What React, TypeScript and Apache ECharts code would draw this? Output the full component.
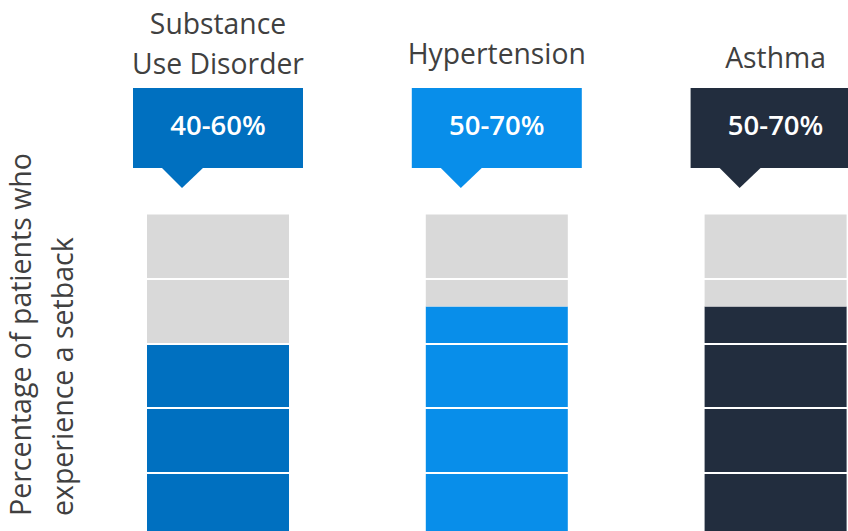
import React, { useEffect, useRef } from "react";
import * as echarts from "echarts";

const categories = ["Substance\nUse Disorder", "Hypertension", "Asthma"];
const rangeLabels = ["40-60%", "50-70%", "50-70%"];
const setbackValues = [60, 71.5, 71.5];
const segmentBreaks = [20, 40, 60, 80];
const axisMax = 100;
const barColors = ["#0070C0", "#088EEA", "#222D3E"];
const grayColor = "#D9D9D9";
const titleCenterY = [43, 53, 57];

export default function App() {
  const ref = useRef<HTMLDivElement>(null);
  useEffect(() => {
    if (!ref.current) return;
    const chart = echarts.init(ref.current, null, { renderer: "svg" });
    const font = "'Open Sans', 'Noto Sans', sans-serif";
    const option: any = {
      animation: false,
      backgroundColor: "#ffffff",
      grid: { left: 78.6, top: 214.5, right: 0, bottom: 0 },
      xAxis: {
        type: "category",
        data: categories,
        show: false,
      },
      yAxis: {
        type: "value",
        min: 0,
        max: axisMax,
        show: false,
        splitLine: { show: false },
      },
      graphic: [
        {
          type: "text",
          x: -1,
          y: 516,
          rotation: Math.PI / 2,
          style: {
            text: "Percentage of patients who\nexperience a setback",
            font: `28.5px ${font}`,
            fill: "#404040",
            lineHeight: 42,
            textAlign: "left",
            textVerticalAlign: "top",
          },
        },
      ],
      series: [
        {
          type: "bar",
          stack: "s",
          barWidth: 142,
          data: setbackValues.map((v, i) => ({
            value: v,
            itemStyle: { color: barColors[i] },
          })),
        },
        {
          type: "bar",
          stack: "s",
          barWidth: 142,
          itemStyle: { color: grayColor },
          data: setbackValues.map((v) => axisMax - v),
          markLine: {
            silent: true,
            symbol: ["none", "none"],
            label: { show: false },
            lineStyle: { color: "#ffffff", width: 2, type: "solid" },
            data: segmentBreaks.map((b) => ({ yAxis: b })),
          },
        },
        {
          type: "custom",
          clip: false,
          data: categories.map((_, i) => [i, 0]),
          renderItem: (params: any, api: any) => {
            const i = api.value(0);
            const cx = api.coord([i, 0])[0];
            const color = barColors[i];
            return {
              type: "group",
              children: [
                {
                  type: "rect",
                  shape: { x: cx - 85, y: 88, width: 170, height: 80 },
                  style: { fill: color },
                },
                {
                  type: "polygon",
                  shape: {
                    points: [
                      [cx - 57, 167],
                      [cx - 14, 167],
                      [cx - 36, 188],
                    ],
                  },
                  style: { fill: color },
                },
                {
                  type: "text",
                  x: cx,
                  y: 124,
                  style: {
                    text: rangeLabels[i],
                    font: `600 27.5px ${font}`,
                    fill: "#ffffff",
                    textAlign: "center",
                    textVerticalAlign: "middle",
                  },
                },
                {
                  type: "text",
                  x: cx,
                  y: titleCenterY[i],
                  style: {
                    text: categories[i],
                    font: `28.3px ${font}`,
                    fill: "#404040",
                    lineHeight: 40,
                    textAlign: "center",
                    textVerticalAlign: "middle",
                  },
                },
              ],
            };
          },
        },
      ],
    };
    chart.setOption(option);
    return () => chart.dispose();
  }, []);
  return (
    <div
      style={{
        position: "fixed",
        left: 0,
        top: 0,
        width: 848,
        height: 531,
        overflow: "hidden",
      }}
    >
      <div ref={ref} style={{ width: 915, height: 537 }} />
    </div>
  );
}
